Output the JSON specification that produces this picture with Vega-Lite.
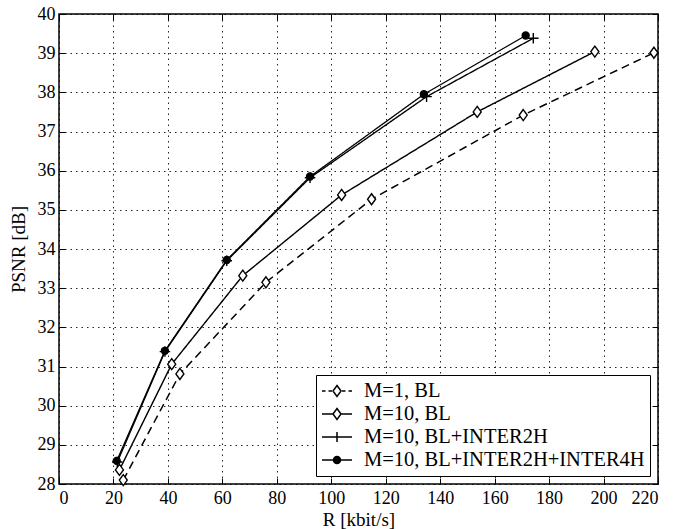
{
  "$schema": "https://vega.github.io/schema/vega-lite/v6.json",
  "width": 599,
  "height": 470,
  "autosize": {"type": "none"},
  "padding": {"left": 59, "top": 14, "right": 24, "bottom": 45},
  "background": "white",
  "config": {
    "font": "Liberation Serif",
    "view": {"stroke": "black", "strokeWidth": 1.5},
    "axis": {
      "labelFont": "Liberation Serif", "labelFontSize": 18, "labelColor": "black",
      "titleFont": "Liberation Serif", "titleFontSize": 19, "titleFontWeight": "normal", "titleColor": "black",
      "tickColor": "black", "tickSize": -6, "tickWidth": 1, "domain": false,
      "gridColor": "black", "gridDash": [1.5, 4], "gridOpacity": 0.85, "gridWidth": 1
    },
    "legend": {"symbolStrokeWidth": 1.5}
  },
  "data": {"values": [
    {"series": "M=1, BL", "R": 23.6, "PSNR": 28.10},
    {"series": "M=1, BL", "R": 44.4, "PSNR": 30.81},
    {"series": "M=1, BL", "R": 76.0, "PSNR": 33.15},
    {"series": "M=1, BL", "R": 114.8, "PSNR": 35.27},
    {"series": "M=1, BL", "R": 170.5, "PSNR": 37.42},
    {"series": "M=1, BL", "R": 218.5, "PSNR": 39.01},
    {"series": "M=10, BL", "R": 22.2, "PSNR": 28.36},
    {"series": "M=10, BL", "R": 41.4, "PSNR": 31.06},
    {"series": "M=10, BL", "R": 67.5, "PSNR": 33.32},
    {"series": "M=10, BL", "R": 103.8, "PSNR": 35.38},
    {"series": "M=10, BL", "R": 153.6, "PSNR": 37.50},
    {"series": "M=10, BL", "R": 196.8, "PSNR": 39.04},
    {"series": "M=10, BL+INTER2H", "R": 21.4, "PSNR": 28.56},
    {"series": "M=10, BL+INTER2H", "R": 38.9, "PSNR": 31.38},
    {"series": "M=10, BL+INTER2H", "R": 61.6, "PSNR": 33.70},
    {"series": "M=10, BL+INTER2H", "R": 92.2, "PSNR": 35.82},
    {"series": "M=10, BL+INTER2H", "R": 135.0, "PSNR": 37.89},
    {"series": "M=10, BL+INTER2H", "R": 174.2, "PSNR": 39.38},
    {"series": "M=10, BL+INTER2H+INTER4H", "R": 21.2, "PSNR": 28.59},
    {"series": "M=10, BL+INTER2H+INTER4H", "R": 38.9, "PSNR": 31.40},
    {"series": "M=10, BL+INTER2H+INTER4H", "R": 61.6, "PSNR": 33.72},
    {"series": "M=10, BL+INTER2H+INTER4H", "R": 92.2, "PSNR": 35.85},
    {"series": "M=10, BL+INTER2H+INTER4H", "R": 134.0, "PSNR": 37.95},
    {"series": "M=10, BL+INTER2H+INTER4H", "R": 171.4, "PSNR": 39.45}
  ]},
  "layer": [
    {
      "mark": {"type": "line", "color": "black"},
      "encoding": {
        "x": {"field": "R", "type": "quantitative",
          "scale": {"domain": [0, 220], "nice": false, "zero": false},
          "axis": {"values": [0, 20, 40, 60, 80, 100, 120, 140, 160, 180, 200, 220], "title": "R [kbit/s]", "labelPadding": 11, "titleBaseline": "alphabetic", "titleY": 41, "grid": true}},
        "y": {"field": "PSNR", "type": "quantitative",
          "scale": {"domain": [28, 40], "nice": false, "zero": false},
          "axis": {"values": [28, 29, 30, 31, 32, 33, 34, 35, 36, 37, 38, 39, 40], "title": "PSNR [dB]", "labelPadding": 10, "titleBaseline": "alphabetic", "titleAngle": 270, "titleX": -35, "titleY": 235, "grid": true}},
        "strokeDash": {"field": "series", "type": "nominal",
          "scale": {"domain": ["M=1, BL", "M=10, BL", "M=10, BL+INTER2H", "M=10, BL+INTER2H+INTER4H"], "range": [[8, 5], [1, 0], [1, 0], [1, 0]]}, "legend": null},
        "strokeWidth": {"field": "series", "type": "nominal",
          "scale": {"domain": ["M=1, BL", "M=10, BL", "M=10, BL+INTER2H", "M=10, BL+INTER2H+INTER4H"], "range": [1.5, 1.3, 1.8, 1.8]}, "legend": null}
      }
    },
    {
      "mark": {"type": "point", "stroke": "black", "strokeWidth": 1.4, "opacity": 1, "size": 100},
      "encoding": {
        "x": {"field": "R", "type": "quantitative",
          "axis": {"orient": "top", "labels": false, "title": null, "grid": false, "values": [0, 20, 40, 60, 80, 100, 120, 140, 160, 180, 200, 220]}},
        "y": {"field": "PSNR", "type": "quantitative",
          "axis": {"orient": "right", "labels": false, "title": null, "grid": false, "values": [28, 29, 30, 31, 32, 33, 34, 35, 36, 37, 38, 39, 40]}},
        "shape": {"field": "series", "type": "nominal",
          "scale": {"domain": ["M=1, BL", "M=10, BL", "M=10, BL+INTER2H", "M=10, BL+INTER2H+INTER4H"],
            "range": ["M0,-1.1L0.8,0L0,1.1L-0.8,0Z", "M0,-1.1L0.8,0L0,1.1L-0.8,0Z", "M-1.05,0L1.05,0M0,-1.05L0,1.05", "M-0.7,0A0.7,0.7 0 1,0 0.7,0A0.7,0.7 0 1,0 -0.7,0Z"]},
          "legend": null},
        "fill": {"field": "series", "type": "nominal",
          "scale": {"domain": ["M=1, BL", "M=10, BL", "M=10, BL+INTER2H", "M=10, BL+INTER2H+INTER4H"],
            "range": ["white", "white", "transparent", "black"]},
          "legend": null}
      }
    },
    {
      "transform": [{"filter": "false"}],
      "mark": {"type": "point", "strokeWidth": 1.5, "opacity": 1},
      "encoding": {
        "x": {"field": "R", "type": "quantitative", "axis": null},
        "y": {"field": "PSNR", "type": "quantitative", "axis": null},
        "shape": {"field": "series", "type": "nominal",
          "scale": {"domain": ["M=1, BL", "M=10, BL", "M=10, BL+INTER2H", "M=10, BL+INTER2H+INTER4H"],
            "range": [
              "M-1,0L-0.65,0M-0.35,0L0,0M1,0L1.35,0M1.65,0L2,0M0.5,-0.55L0.9,0L0.5,0.55L0.1,0Z",
              "M-1,0L0.1,0M0.9,0L2,0M0.5,-0.55L0.9,0L0.5,0.55L0.1,0Z",
              "M-1,0L2,0M0.5,-0.5L0.5,0.5",
              "M-1,0L2,0M0.15,0A0.35,0.35 0 1,0 0.85,0A0.35,0.35 0 1,0 0.15,0Z"
            ]},
          "legend": {"title": null, "orient": "bottom-right", "offset": 8, "labelFont": "Liberation Serif", "labelFontSize": 20.5, "labelColor": "black", "symbolSize": 400, "symbolStrokeWidth": 1.5, "symbolOpacity": 1, "labelOffset": 21, "rowPadding": 1, "padding": 5, "strokeColor": "black", "fillColor": "white", "labelLimit": 400}},
        "fill": {"field": "series", "type": "nominal",
          "scale": {"domain": ["M=1, BL", "M=10, BL", "M=10, BL+INTER2H", "M=10, BL+INTER2H+INTER4H"],
            "range": ["white", "white", "white", "black"]},
          "legend": {"title": null, "orient": "bottom-right", "offset": 8, "labelFont": "Liberation Serif", "labelFontSize": 20.5, "labelColor": "black", "symbolSize": 400, "symbolStrokeWidth": 1.5, "symbolOpacity": 1, "labelOffset": 21, "rowPadding": 1, "padding": 5, "strokeColor": "black", "fillColor": "white", "labelLimit": 400}},
        "stroke": {"field": "series", "type": "nominal",
          "scale": {"domain": ["M=1, BL", "M=10, BL", "M=10, BL+INTER2H", "M=10, BL+INTER2H+INTER4H"],
            "range": ["black", "black", "black", "black"]},
          "legend": {"title": null, "orient": "bottom-right", "offset": 8, "labelFont": "Liberation Serif", "labelFontSize": 20.5, "labelColor": "black", "symbolSize": 400, "symbolStrokeWidth": 1.5, "symbolOpacity": 1, "labelOffset": 21, "rowPadding": 1, "padding": 5, "strokeColor": "black", "fillColor": "white", "labelLimit": 400}}
      }
    }
  ],
  "resolve": {
    "scale": {"shape": "independent", "fill": "independent", "stroke": "independent"},
    "axis": {"x": "independent", "y": "independent"}
  }
}
